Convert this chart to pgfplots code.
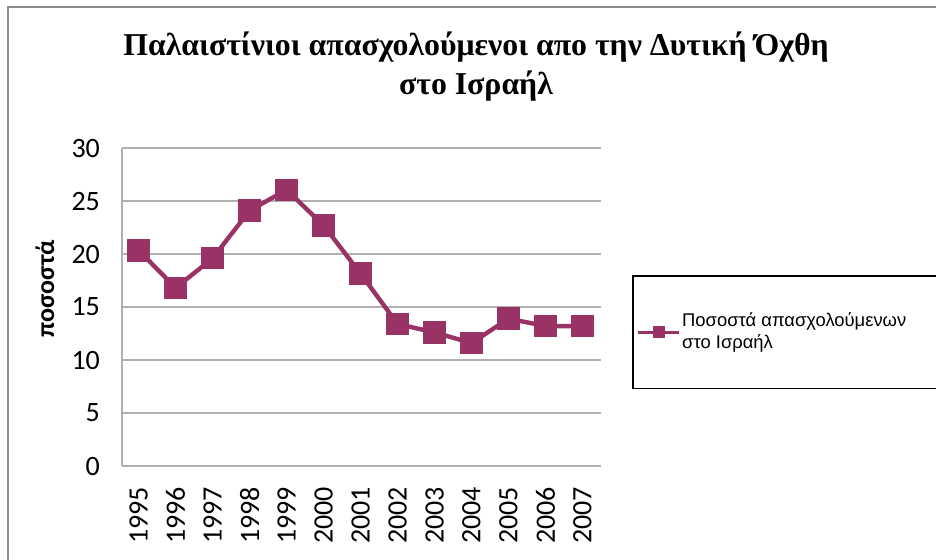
\documentclass[border=0pt]{standalone}
\usepackage{fontspec}
\setmainfont{Liberation Serif}
\newfontfamily\calibri{Carlito}
\newfontfamily\arial{Liberation Sans}
\usepackage{pgfplots}
\pgfplotsset{compat=1.18}
\definecolor{plum}{RGB}{153,51,102}
\definecolor{gridgray}{RGB}{176,176,176}
\definecolor{framegray}{RGB}{140,140,140}

\begin{document}
\begin{tikzpicture}
\useasboundingbox (0pt,0pt) rectangle (468pt,-279.5pt);
% chart area frame (top and left edges visible)
\draw[framegray, line width=1pt] (4pt,-290pt) -- (4pt,-3.5pt) -- (480pt,-3.5pt);
% title
\node[align=center, font=\fontsize{15.9}{19.5}\selectfont\bfseries] at (238pt,-33.5pt)
  {Παλαιστίνιοι απασχολούμενοι απο την Δυτική Όχθη\\στο Ισραήλ};

\begin{axis}[
  at={(61pt,-233pt)}, anchor=south west,
  scale only axis,
  width=239.5pt, height=159pt,
  xmin=1994.55, xmax=2007.5,
  ymin=0, ymax=30,
  xtick={1995,...,2007},
  ytick={0,5,...,30},
  major tick length=0pt,
  axis x line*=bottom, axis y line*=left,
  axis line style={gridgray, line width=0.8pt},
  ymajorgrids, grid style={gridgray, line width=0.8pt},
  ticklabel style={font=\calibri\fontsize{14}{16}\selectfont},
  /pgf/number format/assume math mode=true,
  x tick label style={rotate=90, anchor=east, /pgf/number format/set thousands separator={}, xshift=-7pt},
  y tick label style={xshift=-7.5pt},
  ylabel={ποσοστά},
  ylabel style={font=\calibri\bfseries\fontsize{13}{15}\selectfont, at={(axis description cs:-0.161,0.557)}, anchor=center},
  legend style={at={(axis description cs:1.0647,0.6006)}, anchor=north west,
    draw=black, line width=0.8pt, inner xsep=2pt, inner ysep=18pt,
    font=\arial\fontsize{9.2}{10.8}\selectfont,
    nodes={align=left, inner sep=0.6pt}},
  legend cell align=left,
  legend image code/.code={
    \draw[#1, line width=1.6pt, mark size=2.3pt, mark repeat=2, mark phase=2]
      plot coordinates {(0pt,0pt) (10.25pt,0pt) (20.5pt,0pt)};
  },
]
\addplot[plum, line width=2.2pt, mark=square*, mark size=4.5pt, mark options={solid, fill=plum}]
  coordinates {
  (1995,20.35) (1996,16.8) (1997,19.6) (1998,24.1) (1999,26.05)
  (2000,22.7) (2001,18.15) (2002,13.4) (2003,12.6) (2004,11.6)
  (2005,13.9) (2006,13.2) (2007,13.2)
};
\addlegendentry{Ποσοστά απασχολούμενων\rule{30pt}{0pt}\\στο Ισραήλ}
\end{axis}
\end{tikzpicture}
\end{document}
